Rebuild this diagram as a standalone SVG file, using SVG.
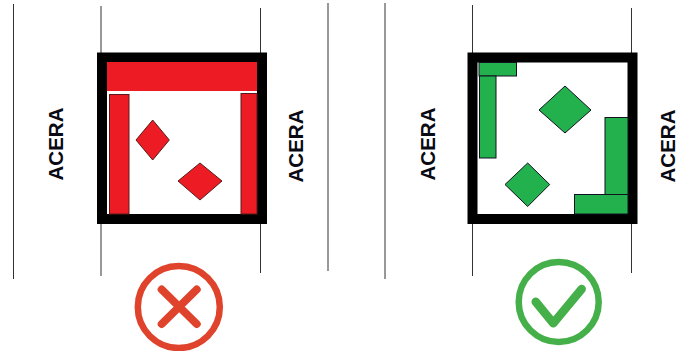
<svg xmlns="http://www.w3.org/2000/svg" width="698" height="351" viewBox="0 0 698 351">
<style>
.l{stroke:#333;stroke-width:1;fill:none}
.room{fill:#fff;stroke:#000;stroke-width:10}
.r{fill:#ed1c24;stroke:#5a1a1a;stroke-width:1}
.g{fill:#22b14c;stroke:#112;stroke-width:1}
text{font-family:"Liberation Sans",Arial,sans-serif;font-weight:bold;font-size:20.500px;fill:#0a0a14;text-anchor:middle}
</style>
<rect width="698" height="351" fill="#fff"/>
<g id="lines">
<path class="l" d="M13.500 4V279M101 6V276M260.500 8V273M328 3V271M385 3V279M472.500 5V276M631.500 8V273"/>
</g>
<g id="room-bad">
<rect class="room" x="102" y="57.500" width="160" height="161.500"/>
<rect x="107" y="62" width="150" height="29" fill="#ed1c24"/>
<rect class="r" x="109.500" y="94.500" width="19.500" height="119.500"/>
<rect class="r" x="241" y="93.500" width="16" height="120.500"/>
<polygon class="r" points="136,140 152.700,120 169.300,140 152.700,160"/>
<polygon class="r" points="178,181 200,163 222,181 200,200"/>
</g>
<g id="room-good">
<rect class="room" x="472.500" y="57.500" width="160" height="161.500"/>
<rect class="g" x="479" y="62.500" width="37.500" height="13.500"/>
<rect class="g" x="479.500" y="76" width="16.500" height="82"/>
<rect class="g" x="605" y="117.500" width="23" height="78"/>
<rect class="g" x="574.500" y="194.500" width="53.500" height="19.500"/>
<polygon class="g" points="539,110 565,86 591,110 565,133"/>
<polygon class="g" points="505,184.500 527.700,163 549.700,184.500 527.700,206.500"/>
</g>
<g id="labels">
<text transform="translate(63.300 144) rotate(-90)">ACERA</text>
<text transform="translate(303.300 146) rotate(-90)">ACERA</text>
<text transform="translate(434.500 144) rotate(-90)">ACERA</text>
<text transform="translate(674.500 146) rotate(-90)">ACERA</text>
</g>
<g id="icon-no" fill="none" stroke="#e0432b">
<circle cx="178.800" cy="307" r="41" stroke-width="6.500"/>
<path d="M161.700 289.500L196.700 324M196.700 289.500L161.700 324" stroke-width="8" stroke-linecap="round"/>
</g>
<g id="icon-yes" fill="none" stroke="#45b04a">
<circle cx="558.700" cy="302" r="40" stroke-width="6.500"/>
<path d="M535.700 301.700L553.300 323.300L581.700 289" stroke-width="8.500" stroke-linecap="round" stroke-linejoin="round"/>
</g>
</svg>
